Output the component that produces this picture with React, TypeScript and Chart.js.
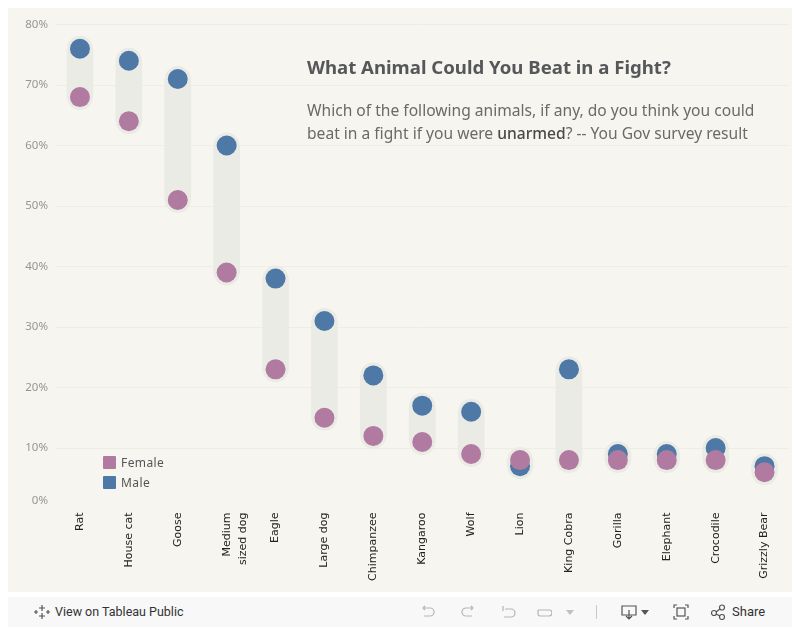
import React, { useEffect, useRef } from "react";
import { Chart, registerables } from "chart.js";

Chart.register(...registerables);

const categories: (string | string[])[] = [
  "Rat", "House cat", "Goose", ["Medium", "sized dog"], "Eagle", "Large dog",
  "Chimpanzee", "Kangaroo", "Wolf", "Lion", "King Cobra", "Gorilla",
  "Elephant", "Crocodile", "Grizzly Bear",
];
const maleValues = [76, 74, 71, 60, 38, 31, 22, 17, 16, 7, 23, 9, 9, 10, 7];
const femaleValues = [68, 64, 51, 39, 23, 15, 12, 11, 9, 8, 8, 8, 8, 8, 6];
const yTicks = [0, 10, 20, 30, 40, 50, 60, 70, 80];

const MALE = "#4e79a7";
const FEMALE = "#b07aa1";
const BAND = "#ebebe6";
const BG = "#f6f5ef";

const yLabelPlugin = {
  id: "yLabels",
  afterDraw(chart: any) {
    const { ctx, chartArea, scales } = chart;
    const y = scales.y;
    ctx.save();
    ctx.font = "11.5px 'Noto Sans'";
    ctx.fillStyle = "#969696";
    ctx.textAlign = "right";
    ctx.textBaseline = "middle";
    yTicks.forEach((v) => {
      let py = y.getPixelForValue(v);
      py = Math.min(py, chartArea.bottom - 8);
      ctx.fillText(v + "%", 40, py);
    });
    ctx.restore();
  },
};

function ChartCanvas() {
  const ref = useRef<HTMLCanvasElement | null>(null);
  useEffect(() => {
    if (!ref.current) return;
    const band = maleValues.map((m, i) => [Math.min(m, femaleValues[i]), Math.max(m, femaleValues[i])]);
    const pointDs = (label: string, data: number[], r: number, color: string, order: number) => ({
      type: "line",
      label,
      data,
      showLine: false,
      borderWidth: 0,
      borderColor: color,
      backgroundColor: color,
      pointRadius: r,
      pointBackgroundColor: color,
      pointBorderColor: color,
      pointBorderWidth: 0,
      order,
    });
    const chart = new Chart(ref.current, {
      type: "bar",
      data: {
        labels: categories as any,
        datasets: [
          {
            type: "bar",
            label: "band",
            data: band as any,
            backgroundColor: BAND,
            barThickness: 26,
            borderWidth: 0,
            order: 5,
          },
          pointDs("haloMale", maleValues, 13, BAND, 4),
          pointDs("haloFemale", femaleValues, 13, BAND, 3),
          pointDs("Male", maleValues, 10, MALE, 2),
          pointDs("Female", femaleValues, 10, FEMALE, 1),
        ] as any,
      },
      options: {
        responsive: false,
        animation: false,
        devicePixelRatio: 1,
        layout: { autoPadding: false, padding: { top: 16.5, right: 3, left: 0, bottom: 0 } },
        plugins: { legend: { display: false }, tooltip: { enabled: false } },
        scales: {
          x: {
            grid: { display: false },
            border: { display: false },
            ticks: {
              minRotation: 90,
              maxRotation: 90,
              padding: -4,
              color: "#222",
              font: { family: "'DejaVu Sans'", size: 11, lineHeight: 1.5 },
              autoSkip: false,
            },
            afterFit: (s: any) => {
              s.height = 83.5;
              s.paddingLeft = 0;
              s.paddingRight = 0;
            },
          },
          y: {
            min: 0,
            max: 80,
            ticks: { display: false, stepSize: 10 },
            grid: {
              drawTicks: false,
              color: (c: any) => (c.tick && c.tick.value === 0 ? "rgba(0,0,0,0)" : "#edede6"),
              lineWidth: 1,
            },
            border: { display: false },
            afterFit: (s: any) => {
              s.width = 47.5;
              s.paddingTop = 0;
              s.paddingBottom = 0;
            },
          },
        },
      },
      plugins: [yLabelPlugin],
    } as any);
    return () => chart.destroy();
  }, []);
  return <canvas ref={ref} width={784} height={584} style={{ display: "block" }} />;
}

function Icon({ d, x, w = 16 }: { d: React.ReactNode; x: number; w?: number }) {
  return (
    <svg width={w} height={16} viewBox={`0 0 ${w} 16`} style={{ position: "absolute", left: x, top: 7 }}>
      {d}
    </svg>
  );
}

export default function App() {
  const legend = [
    { label: "Female", color: FEMALE },
    { label: "Male", color: MALE },
  ];
  const stroke = { stroke: "#b5b5b5", strokeWidth: 1.2, fill: "none" };
  const dark = { stroke: "#555", strokeWidth: 1.2, fill: "none" };
  return (
    <div style={{ position: "relative", width: 784, height: 619 }}>
      <div style={{ position: "absolute", left: 0, top: 0, width: 784, height: 584, background: BG }}>
        <ChartCanvas />
        <div
          style={{
            position: "absolute", left: 299, top: 46, fontFamily: "'Noto Sans'", fontWeight: 700,
            fontSize: 18.6, color: "#555759", whiteSpace: "nowrap",
          }}
        >
          What Animal Could You Beat in a Fight?
        </div>
        <div
          style={{
            position: "absolute", left: 299, top: 91, fontFamily: "'Noto Sans'", fontSize: 15.6,
            lineHeight: "23px", color: "#6a6a6a", whiteSpace: "nowrap",
          }}
        >
          Which of the following animals, if any, do you think you could
          <br />
          beat in a fight if you were <span style={{ color: "#4a4a4a", fontWeight: 500 }}>unarmed</span>? -- You Gov survey result
        </div>
        {legend.map((l, i) => (
          <div key={l.label} style={{ position: "absolute", left: 95, top: 448 + i * 20, height: 13, display: "flex", alignItems: "center" }}>
            <div style={{ width: 13, height: 13, background: l.color, borderRadius: 1 }} />
            <span style={{ marginLeft: 5, fontFamily: "'Noto Sans'", fontSize: 12, color: "#555", letterSpacing: 0.4 }}>{l.label}</span>
          </div>
        ))}
      </div>
      <div style={{ position: "absolute", left: -8, top: 589, width: 800, height: 30, background: "#f8f8f8" }}>
        <Icon x={34} d={<g {...dark}><path d="M8 1v6M5 4h6M8 9v6M5 12h6M2 6v4M0 8h4M14 6v4M12 8h4" /></g>} />
        <span style={{ position: "absolute", left: 55, top: 7, fontFamily: "Roboto", fontSize: 12.5, color: "#333" }}>View on Tableau Public</span>
        <Icon x={420} d={<path {...stroke} d="M3 4h7a4 4 0 0 1 0 8H4M3 4l2-2M3 4l2 2" />} />
        <Icon x={460} d={<path {...stroke} d="M13 4H6a4 4 0 0 0 0 8h6M13 4l-2-2M13 4l-2 2" />} />
        <Icon x={500} d={<path {...stroke} d="M3 2v5M5 5h6a4 4 0 0 1 0 8H4" />} />
        <Icon x={536} d={<path {...stroke} d="M2 6h11a2 2 0 0 1 0 6H4a2 2 0 0 1-2-2V6" />} />
        <Icon x={565} w={10} d={<path fill="#c0c0c0" d="M1 6h8l-4 5z" />} />
        <div style={{ position: "absolute", left: 596, top: 8, width: 1, height: 14, background: "#c8c8c8" }} />
        <Icon x={621} d={<path {...dark} d="M1 2h14v9H1zM8 6v9M5 12l3 3 3-3" />} />
        <Icon x={640} w={10} d={<path fill="#555" d="M1 6h8l-4 5z" />} />
        <Icon x={673} d={<g {...dark}><path d="M1 4V1h3M12 1h3v3M15 12v3h-3M4 15H1v-3" /><rect x="4" y="4" width="8" height="8" /></g>} />
        <Icon x={710} d={<g {...dark}><circle cx="4" cy="9" r="2.5" /><circle cx="12" cy="3.5" r="2.5" /><circle cx="12" cy="13" r="2.5" /><path d="M6 8l4-3M6 10l4 2" /></g>} />
        <span style={{ position: "absolute", left: 732, top: 7, fontFamily: "Roboto", fontSize: 13, color: "#333" }}>Share</span>
      </div>
    </div>
  );
}
